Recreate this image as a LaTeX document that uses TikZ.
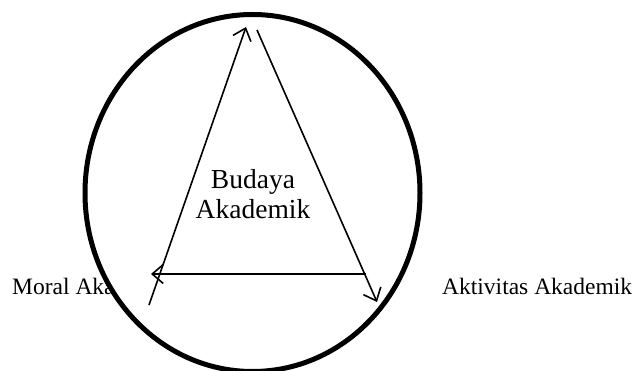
\documentclass[tikz,border=0pt]{standalone}
\usepackage{fontspec}
\setmainfont{Liberation Serif}
\usetikzlibrary{shapes.geometric,arrows.meta}
\begin{document}
\begin{tikzpicture}[x=1pt,y=-1pt,
  label/.style={font=\fontsize{23.5}{26}\selectfont, inner sep=0pt, anchor=base west},
  ring/.style={ellipse, draw, line width=5pt, fill=white, inner sep=0pt, minimum width=335pt, minimum height=357pt},
  conn/.style={line width=1.6pt, -{Straight Barb[length=11pt,width=19pt,line width=1.6pt]}},
  centre/.style={font=\fontsize{27.5}{30}\selectfont, align=center, inner sep=0pt}]
\useasboundingbox (0,0) rectangle (635,371);
\node[label] (moral) at (12,295) {Moral Akademik};
\node[label] (aktiv) at (442,295) {Aktivitas Akademik};
\node[ring] (ring) at (252.5,193) {};
\node[centre] (budaya) at (253,194) {Budaya\\Akademik};
\coordinate (a1) at (149,305);
\coordinate (a2) at (246,27);
\coordinate (b1) at (257,30);
\coordinate (b2) at (377,302);
\coordinate (c1) at (366,274);
\coordinate (c2) at (151,274);
\draw[conn] (a1) -- (a2);
\draw[conn] (b1) -- (b2);
\draw[conn] (c1) -- (c2);
\end{tikzpicture}
\end{document}
